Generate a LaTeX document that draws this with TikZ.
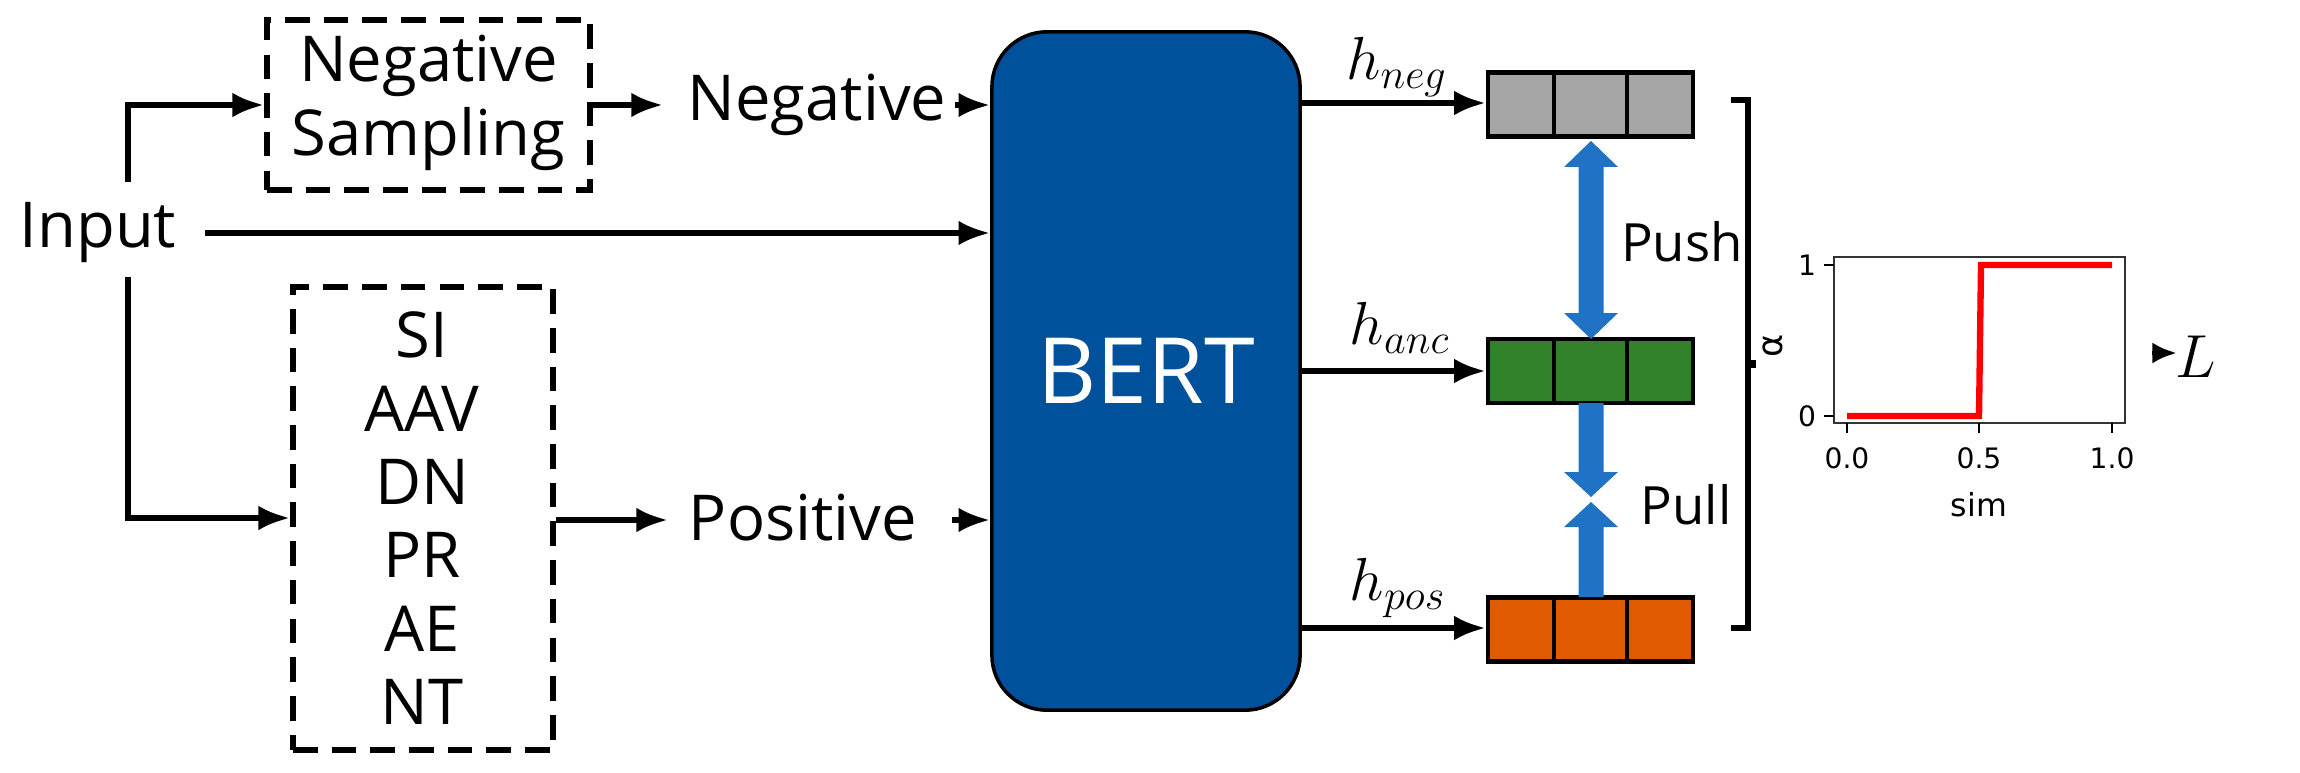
\documentclass[tikz,border=0pt]{standalone}
\usepackage{fontspec}
\setmainfont{Open Sans}
\newfontfamily\plotfont{DejaVu Sans}
\usetikzlibrary{arrows.meta,shapes.arrows}
\definecolor{bertblue}{HTML}{00519C}
\definecolor{arrblue}{HTML}{1F72C4}
\definecolor{cgray}{HTML}{A6A6A6}
\definecolor{cgreen}{HTML}{31822B}
\definecolor{corange}{HTML}{E05A00}
\begin{document}
\begin{tikzpicture}[x=0.01cm,y=-0.01cm,
  conn/.style={line width=1.6pt,-{Latex[length=9pt,width=7pt]}},
  lbl/.style={font=\fontsize{18}{22}\selectfont,inner sep=0pt},
  dbox/.style={draw,line width=1.6pt,dash pattern=on 7pt off 4pt,inner sep=0pt},
  vec/.style={draw,line width=1.2pt,inner sep=0pt,minimum width=2.05cm,minimum height=0.64cm},
  mlbl/.style={font=\fontsize{17}{20}\selectfont,inner sep=0pt},
  pt/.style={font=\plotfont\fontsize{8}{10}\selectfont,inner sep=0pt},
  bigarr/.style={fill=arrblue,draw=none}]
\useasboundingbox (0,0) rectangle (2300,773);
% left
\node[lbl] (inp) at (98,233) {Input};
\node[dbox,minimum width=3.23cm,minimum height=1.70cm] (ns) at (428.5,105) {};
\node[lbl,align=center,font=\fontsize{18}{21}\selectfont] at (428.5,103) {Negative\\Sampling};
\node[dbox,minimum width=2.60cm,minimum height=4.63cm] (aug) at (423,518.5) {};
\foreach \t [count=\i] in {SI,AAV,DN,PR,AE,NT}
  \node[lbl] at (422,{335+73.4*(\i-1)}) {\t};
\node[lbl] (neg) at (817,105) {Negative};
\node[lbl] (pos) at (803,518) {Positive};
\node[draw=black,line width=1pt,fill=bertblue,rounded corners=0.55cm,minimum width=3.08cm,minimum height=6.78cm,inner sep=0pt] (bert) at (1146,371) {};
\node[text=white,font=\fontsize{26}{30}\selectfont] at (1146,371) {BERT};
\coordinate (c1) at (128,182);
\coordinate (c2) at (128,277);
\draw[conn] (c1) |- (ns.west);
\draw[conn] (c2) |- (aug.west |- 0,518);
\draw[conn] (205,233) -- (bert.west |- 0,233);
\draw[conn] (ns.east) -- (663,105);
\draw[conn] (955,105) -- (bert.west |- 0,105);
\draw[conn] (aug.east |- 0,520) -- (668,520);
\draw[conn] (952,520) -- (bert.west |- 0,520);
% vectors
\node[vec,fill=cgray] (vn) at (1590.5,104.5) {};
\node[vec,fill=cgreen] (va) at (1590.5,371) {};
\node[vec,fill=corange] (vp) at (1590.5,629.5) {};
\foreach \v in {vn,va,vp}{
  \draw[line width=1.2pt] ([xshift=0.683cm]\v.north west) -- ([xshift=0.683cm]\v.south west);
  \draw[line width=1.2pt] ([xshift=-0.683cm]\v.north east) -- ([xshift=-0.683cm]\v.south east);}
\draw[conn] (bert.east |- 0,103) -- (vn.west |- 0,103);
\draw[conn] (bert.east |- 0,371) -- (va.west);
\draw[conn] (bert.east |- 0,628) -- (vp.west |- 0,628);
\node[mlbl] at (1397,67) {$h_{neg}$};
\node[mlbl] at (1400,328) {$h_{anc}$};
\node[mlbl] at (1398,588) {$h_{pos}$};
% push arrow (double)
\fill[arrblue] (1591,141) -- (1618,167) -- (1603.5,167) -- (1603.5,313) -- (1618,313) -- (1591,339) -- (1564,313) -- (1578.5,313) -- (1578.5,167) -- (1564,167) -- cycle;
% pull arrows
\fill[arrblue] (1578.5,403) -- (1603.5,403) -- (1603.5,472) -- (1618,472) -- (1591,497) -- (1564,472) -- (1578.5,472) -- cycle;
\fill[arrblue] (1578.5,597) -- (1603.5,597) -- (1603.5,527) -- (1618,527) -- (1591,502) -- (1564,527) -- (1578.5,527) -- cycle;
\node[lbl,font=\fontsize{15}{18}\selectfont] at (1682,242) {Push};
\node[lbl,font=\fontsize{15}{18}\selectfont] at (1686,505) {Pull};
% bracket
\draw[line width=1.6pt] (1731,100) -- (1748,100) -- (1748,628) -- (1731,628);
\draw[line width=2.5pt] (1748,364) -- (1756,364);
\node[pt,rotate=90,font=\plotfont\fontsize{10}{12}\selectfont] at (1773,346) {α};
% plot
\draw[line width=0.8pt,draw=black!80] (1834,257) rectangle (2125,423);
\draw[red,line width=1.8pt] (1847,416) -- (1979,416) -- (1981,265) -- (2112,265);
\foreach \x/\t in {1847/0.0,1979/0.5,2112/1.0}{
  \draw[line width=0.6pt] (\x,423) -- (\x,433);
  \node[pt] at (\x,458) {\t};}
\foreach \y/\t in {265/1,416/0}{
  \draw[line width=0.6pt] (1834,\y) -- (1824,\y);
  \node[pt] at (1807,\y) {\t};}
\node[pt,font=\plotfont\fontsize{9}{11}\selectfont] at (1979,505) {sim};
\coordinate (la) at (2152,353);
\node[mlbl,font=\fontsize{16}{19}\selectfont] (L) at (2196,357) {$L$};
\draw[line width=1.4pt,-{Latex[length=7pt,width=6pt]}] (la) -- (2177,353);
\end{tikzpicture}
\end{document}
